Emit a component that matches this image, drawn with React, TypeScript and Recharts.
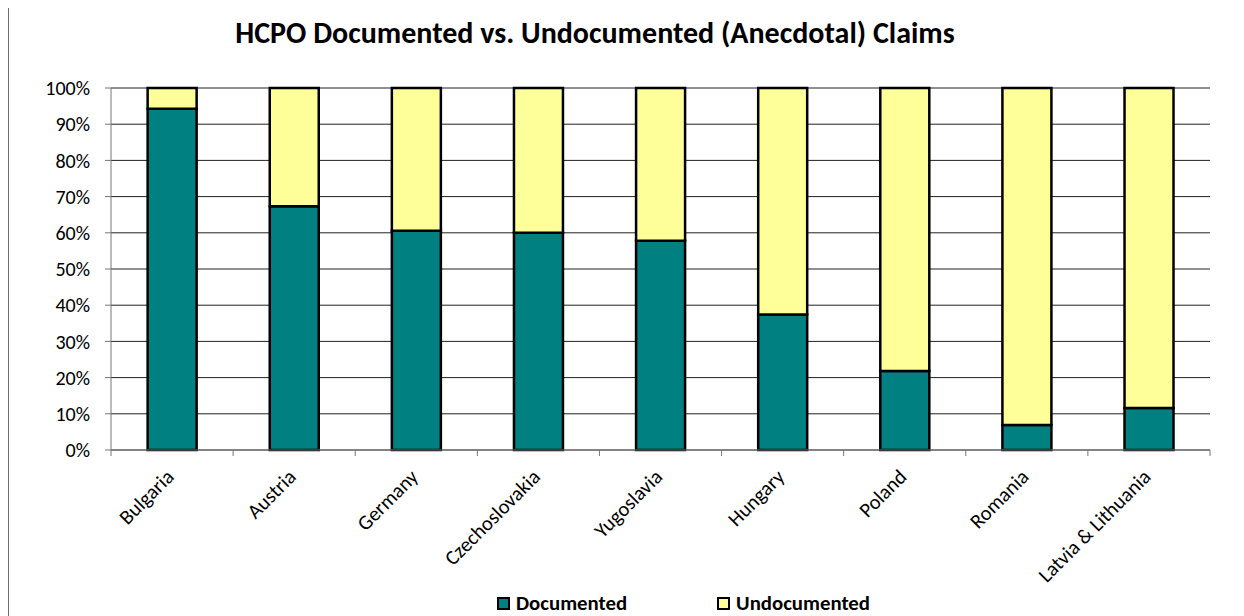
import React from 'react';
import { BarChart, Bar, XAxis, YAxis, CartesianGrid, Legend } from 'recharts';

const categories = ['Bulgaria', 'Austria', 'Germany', 'Czechoslovakia', 'Yugoslavia', 'Hungary', 'Poland', 'Romania', 'Latvia & Lithuania'];
const documented = [94.3, 67.3, 60.6, 60.0, 57.8, 37.4, 21.8, 6.9, 11.6];
const undocumented = documented.map((d) => +(100 - d).toFixed(1));
const yTicks = [0, 10, 20, 30, 40, 50, 60, 70, 80, 90, 100];
const seriesNames = ['Documented', 'Undocumented'];
const seriesColors = ['#008080', '#FFFF99'];

const data = categories.map((c, i) => ({ name: c, documented: documented[i], undocumented: undocumented[i] }));

const FONT = 'Carlito, Calibri, Lato, "Open Sans", sans-serif';
const X_TICK_SIZE = 6;
const X_TICK_MARGIN = 2;

const XTick = (props: any) => {
  const { x, y, payload, index, visibleTicksCount, width } = props;
  const half =
    payload && typeof payload.offset === 'number' && payload.offset > 0
      ? payload.offset
      : width && visibleTicksCount
      ? width / visibleTicksCount / 2
      : 0;
  const axisY = y - X_TICK_SIZE - X_TICK_MARGIN;
  const isLast = index === (visibleTicksCount ?? categories.length) - 1;
  return (
    <g>
      <line x1={x - half} x2={x - half} y1={axisY} y2={axisY + X_TICK_SIZE} stroke="#777" />
      {isLast && <line x1={x + half} x2={x + half} y1={axisY} y2={axisY + X_TICK_SIZE} stroke="#777" />}
      <g transform={`translate(${x - 2},${y + 15})`}>
        <text x={0} y={0} dy="0.35em" textAnchor="end" transform="rotate(-45)" fill="#000" fontSize={20.5} fontFamily={FONT}>
          {payload.value}
        </text>
      </g>
    </g>
  );
};

const LegendContent = () => (
  <div style={{ display: 'flex', justifyContent: 'flex-start', paddingLeft: 488, fontFamily: FONT, fontWeight: 'bold', fontSize: 20.8, lineHeight: '24px', color: '#000' }}>
    {seriesNames.map((n, i) => (
      <div key={n} style={{ display: 'flex', alignItems: 'center', marginLeft: i === 0 ? 0 : 90 }}>
        <span style={{ display: 'inline-block', width: 9, height: 9, background: seriesColors[i], border: '2px solid #000', marginRight: 6 }} />
        <span>{n}</span>
      </div>
    ))}
  </div>
);

export default function App() {
  return (
    <div style={{ position: 'relative', marginTop: -2, width: 1240, height: 614, border: '1px solid #6d6d6d', boxSizing: 'border-box', background: '#fff' }}>
      <div style={{ position: 'absolute', left: 0, width: 1172, top: 7, textAlign: 'center', fontFamily: FONT, fontWeight: 'bold', fontSize: 30, color: '#000', whiteSpace: 'nowrap' }}>
        HCPO Documented vs. Undocumented (Anecdotal) Claims
      </div>
      <BarChart
        width={1238}
        height={612}
        data={data}
        margin={{ top: 81, right: 37, left: 42, bottom: 0 }}
        barCategoryGap="30%"
      >
        <CartesianGrid vertical={false} stroke="#222" strokeWidth={1} />
        <XAxis
          dataKey="name"
          height={612 - 443}
          interval={0}
          tick={<XTick />}
          tickLine={false}
          tickSize={X_TICK_SIZE}
          tickMargin={X_TICK_MARGIN}
          axisLine={{ stroke: '#777' }}
        />
        <YAxis
          width={60}
          domain={[0, 100]}
          ticks={yTicks}
          tickFormatter={(v: number) => `${v}%`}
          tick={{ fill: '#000', fontSize: 20, fontFamily: FONT }}
          tickSize={6}
          tickMargin={15}
          tickLine={{ stroke: '#777' }}
          axisLine={{ stroke: '#777' }}
          interval={0}
        />
        <Legend
          layout="horizontal"
          verticalAlign="middle"
          align="center"
          content={<LegendContent />}
          wrapperStyle={{ position: 'absolute', top: 584, left: 0, width: 1238 }}
        />
        <Bar dataKey="documented" stackId="a" fill={seriesColors[0]} stroke="#000" strokeWidth={2.5} isAnimationActive={false} />
        <Bar dataKey="undocumented" stackId="a" fill={seriesColors[1]} stroke="#000" strokeWidth={2.5} isAnimationActive={false} />
      </BarChart>
    </div>
  );
}
